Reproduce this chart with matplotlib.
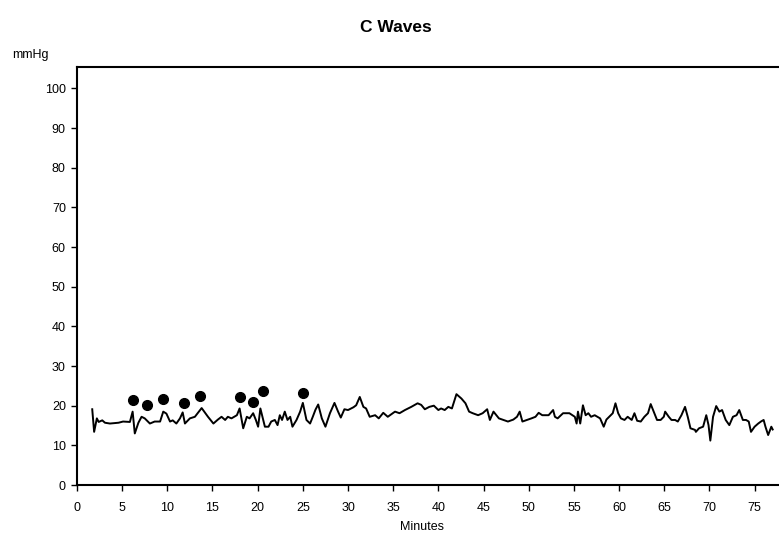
import matplotlib
matplotlib.use("Agg")
import matplotlib.pyplot as plt

plt.rcParams['font.family'] = ['Liberation Sans', 'DejaVu Sans']

minutes = [1.69, 1.9, 2.2, 2.4, 2.8, 3.1, 3.65, 4.6, 5.1, 5.86, 6.16, 6.4, 6.8, 7.15, 7.5,
           8.07, 8.6, 9.2, 9.55, 9.9, 10.3, 10.6, 11.0, 11.4, 11.7, 11.95, 12.5, 13.05, 13.8,
           14.5, 15.1, 15.6, 16.0, 16.4, 16.7, 17.1, 17.7, 18.0, 18.4, 18.8, 19.1, 19.5, 19.8,
           20.05, 20.3, 20.8, 21.2, 21.5, 21.9, 22.2, 22.45, 22.7, 23.0, 23.3, 23.6, 23.85,
           24.3, 24.7, 25.0, 25.4, 25.8, 26.1, 26.4, 26.7, 27.1, 27.5, 28.0, 28.5, 28.9, 29.2,
           29.6, 30.0, 30.6, 30.9, 31.3, 31.7, 32.0, 32.4, 33.0, 33.4, 33.9, 34.4, 35.2, 35.7,
           36.3, 37.0, 37.7, 38.1, 38.5, 39.0, 39.5, 40.0, 40.3, 40.7, 41.1, 41.5, 42.0, 42.55,
           43.0, 43.4, 43.8, 44.4, 44.9, 45.4, 45.7, 46.1, 46.7, 47.2, 47.7, 48.3, 48.7, 49.0,
           49.3, 49.8, 50.3, 50.75, 51.1, 51.5, 52.2, 52.7, 52.9, 53.2, 53.8, 54.5, 55.1, 55.3,
           55.45, 55.7, 56.0, 56.3, 56.6, 56.9, 57.3, 57.6, 57.9, 58.3, 58.6, 58.9, 59.3, 59.6,
           59.9, 60.2, 60.6, 60.95, 61.4, 61.7, 62.0, 62.4, 62.8, 63.2, 63.5, 63.9, 64.2, 64.6,
           64.95, 65.1, 65.5, 65.8, 66.2, 66.5, 66.9, 67.3, 67.6, 67.9, 68.4, 68.5, 68.85, 69.3,
           69.65, 69.9, 70.1, 70.4, 70.75, 71.1, 71.4, 71.8, 72.2, 72.6, 73.0, 73.3, 73.7, 74.05,
           74.35, 74.6, 75.0, 75.4, 75.7, 76.0, 76.2, 76.5, 76.85, 77.0]
pressure = [19.1, 13.4, 16.8, 15.9, 16.3, 15.7, 15.5, 15.7, 16.0, 15.9, 18.5, 13.0, 15.7, 17.2, 16.8,
            15.5, 16.0, 16.0, 18.5, 18.0, 16.0, 16.3, 15.5, 16.8, 18.3, 15.5, 16.8, 17.2, 19.4,
            17.2, 15.5, 16.5, 17.2, 16.4, 17.2, 16.8, 17.6, 19.3, 14.3, 17.2, 16.8, 18.1, 16.4,
            14.7, 19.3, 14.7, 14.7, 16.0, 16.4, 15.1, 17.6, 16.4, 18.5, 16.4, 17.2, 14.7,
            16.4, 18.5, 20.7, 16.4, 15.5, 17.2, 19.0, 20.3, 16.8, 14.7, 18.1, 20.7, 18.5, 17.0,
            19.1, 18.9, 19.6, 20.1, 22.2, 19.7, 19.3, 17.2, 17.6, 16.8, 18.2, 17.2, 18.5, 18.1,
            18.9, 19.7, 20.6, 20.2, 19.1, 19.7, 20.0, 18.9, 19.3, 18.9, 19.7, 19.3, 22.9, 21.8,
            20.6, 18.5, 18.1, 17.6, 18.1, 19.1, 16.4, 18.5, 16.8, 16.4, 16.0, 16.5, 17.2, 18.5,
            16.0, 16.4, 16.8, 17.2, 18.2, 17.6, 17.6, 18.9, 17.2, 16.8, 18.1, 18.1, 17.2, 15.5,
            18.5, 15.5, 20.1, 17.6, 18.1, 17.2, 17.6, 17.2, 16.8, 14.7, 16.5, 17.2, 18.1, 20.6,
            18.1, 16.8, 16.4, 17.2, 16.4, 18.1, 16.2, 16.0, 17.2, 18.1, 20.4, 18.1, 16.4, 16.4,
            17.2, 18.5, 17.2, 16.4, 16.4, 16.0, 17.6, 19.7, 17.2, 14.3, 13.9, 13.4, 14.3, 14.7,
            17.6, 15.1, 11.2, 17.2, 19.9, 18.5, 18.9, 16.4, 15.1, 17.2, 17.6, 18.9, 16.4, 16.4,
            16.0, 13.4, 14.7, 15.5, 16.0, 16.4, 14.7, 12.6, 14.7, 14.0]

wave_minutes = [6.2, 7.75, 9.5, 11.9, 13.6, 18.0, 19.5, 20.6, 25.0]
wave_pressure = [21.5, 20.1, 21.7, 20.7, 22.5, 22.1, 21.0, 23.8, 23.2]

x_ticks = list(range(0, 80, 5))
y_ticks = list(range(0, 110, 10))

fig = plt.figure(figsize=(7.79, 5.46), dpi=100)
ax = fig.add_axes([0.0988, 0.1117, 0.9012, 0.765])

ax.plot(minutes, pressure, color='black', lw=1.4)
ax.plot(wave_minutes, wave_pressure, 'o', color='black', markersize=7)

ax.set_xlim(0, 77.7)
ax.set_ylim(0, 105.3)
ax.set_xticks(x_ticks)
ax.set_yticks(y_ticks)
ax.tick_params(direction='out', length=4, width=1, labelsize=9, colors='black')
ax.tick_params(axis='x', pad=8)
ax.tick_params(axis='y', pad=4)

for s in ['left', 'bottom', 'top']:
    ax.spines[s].set_linewidth(1.5)
    ax.spines[s].set_color('black')
ax.spines['right'].set_visible(False)

fig.text(396 / 779, 1 - 27 / 546, 'C Waves', ha='center', va='center',
         fontsize=12.5, fontweight='bold')
fig.text(30 / 779, 1 - 55 / 546, 'mmHg', ha='center', va='center', fontsize=9)
fig.text(422 / 779, 1 - 527 / 546, 'Minutes', ha='center', va='center', fontsize=9)

fig.savefig('out.png', dpi=100)
